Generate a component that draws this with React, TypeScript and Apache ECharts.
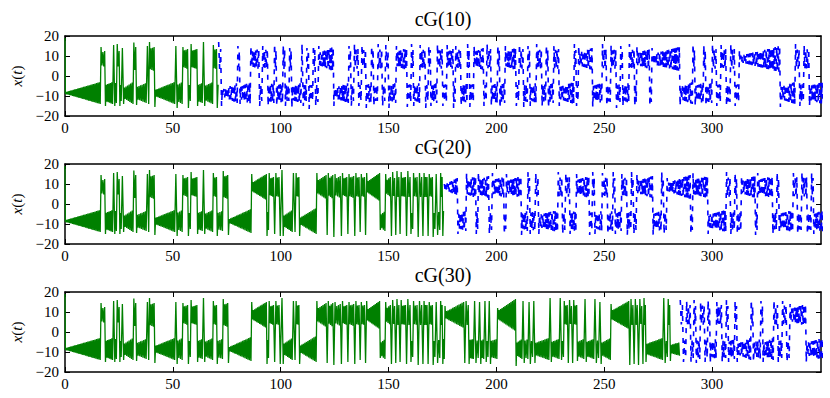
import React, { useEffect, useRef } from "react";
import * as echarts from "echarts";

// Episode: [start time, side (+1 / -1), first excursion |x|, oscillation amplitude at start, amplitude at end]
type Episode = [number, number, number, number, number];

const titles = ["cG(10)", "cG(20)", "cG(30)"];
const xTicks = [0, 50, 100, 150, 200, 250, 300];
const yTicks = [-20, -10, 0, 10, 20];
const cutoffs = [71, 175.7, 285];
const tMax = 350.5;
const wingCentre = 8.5;
const halfPeriod = 0.34;
const greenStart: [number, number] = [0, 19];

const greenEpisodes: Episode[] = [
  [0.0, -1, 9, 0.4, 5.5],
  [16.5, 1, 14.5, 3, 4],
  [18.6, -1, 15, 4, 5.5],
  [22.2, 1, 15.5, 5, 5],
  [22.9, -1, 15, 5, 5],
  [24.0, 1, 16, 3.5, 4],
  [25.3, -1, 15, 4, 4],
  [26.2, 1, 14, 4, 4],
  [27.0, -1, 14, 2.5, 5.5],
  [31.7, 1, 16.8, 5, 6],
  [33.0, -1, 14.5, 3, 5],
  [37.8, 1, 15, 4, 4],
  [38.6, -1, 14, 4, 4],
  [39.0, 1, 17, 5, 6],
  [41.5, -1, 15.5, 1.5, 5.5],
  [51.0, 1, 15, 5, 5],
  [51.8, -1, 16, 4, 5.5],
  [54.5, 1, 14.5, 4, 5],
  [57.0, -1, 16, 4, 4],
  [58.3, 1, 16, 4, 5],
  [61.3, -1, 15, 4, 5],
  [63.8, 1, 17, 5, 5],
  [64.6, -1, 15, 3.5, 5.5],
  [68.6, 1, 15.5, 4.5, 5],
  [70.4, -1, 16, 4, 5],
  [73.2, 1, 16.5, 5, 6],
  [75.6, -1, 15.5, 0.8, 6],
  [86.4, 1, 15, 2, 6.5],
  [93.5, -1, 16, 4.5, 4.5],
  [94.5, 1, 15.5, 4, 5],
  [96.8, -1, 15, 5, 5],
  [97.6, 1, 15.5, 4.5, 5],
  [99.4, -1, 16, 4, 4],
  [100.2, 1, 17, 6, 6],
  [101.0, -1, 16, 2.5, 5.5],
  [105.5, 1, 15.5, 5, 5],
  [106.3, -1, 14, 4.5, 4.5],
  [107.0, 1, 15.5, 4.5, 5],
  [108.6, -1, 16, 1.5, 6.5],
  [116.6, 1, 15.5, 3, 6],
  [121.2, -1, 15.5, 5, 5],
  [121.9, 1, 15.5, 4, 6],
  [124.3, -1, 16.5, 5, 5],
  [125.0, 1, 15, 4, 5.5],
  [127.8, -1, 16, 5, 5],
  [128.5, 1, 15.5, 4, 5],
  [130.8, -1, 15, 5, 5],
  [131.5, 1, 15, 4.5, 5.5],
  [134.0, -1, 16, 5, 5],
  [134.7, 1, 15.5, 4.5, 5],
  [136.5, -1, 14, 5, 5],
  [137.2, 1, 15, 4.5, 5],
  [139.0, -1, 15.5, 5, 5],
  [139.7, 1, 15.5, 2.5, 7],
  [146.0, -1, 13, 3, 5],
  [148.5, 1, 15, 3, 5],
  [151.0, -1, 16, 5, 5],
  [151.7, 1, 16, 4.5, 4.5],
  [153.0, -1, 15.5, 5, 5],
  [153.7, 1, 16.5, 5, 5],
  [155.0, -1, 15, 5, 5],
  [155.7, 1, 16, 4.5, 5],
  [158.0, -1, 16, 5, 5],
  [158.7, 1, 16.5, 5, 5],
  [160.2, -1, 15, 4, 4],
  [161.4, 1, 15.5, 4.5, 5],
  [163.4, -1, 16.5, 5, 5],
  [164.1, 1, 15.5, 5, 5],
  [165.6, -1, 16, 5, 5],
  [166.3, 1, 15.5, 5, 5],
  [168.0, -1, 16, 5, 5],
  [168.7, 1, 15, 4.5, 5],
  [170.5, -1, 16.5, 4, 4],
  [171.7, 1, 15, 5, 5],
  [172.5, -1, 15.5, 4.5, 4.5],
  [174.0, 1, 15.5, 5, 5],
  [175.0, -1, 16, 5, 5],
  [176.0, 1, 13, 1.5, 6.5],
  [185.0, -1, 15.5, 5, 5],
  [185.7, 1, 15.5, 5, 5],
  [187.2, -1, 16, 4.5, 5],
  [189.5, 1, 15.5, 4.5, 4.5],
  [190.3, -1, 15.5, 4, 4.5],
  [191.8, 1, 15, 4.5, 4.5],
  [192.6, -1, 16, 4, 5],
  [194.3, 1, 15.5, 5, 5],
  [195.1, -1, 15, 4, 4],
  [196.3, 1, 15.5, 5, 5],
  [197.1, -1, 16, 4, 5],
  [200.4, 1, 12, 2, 8],
  [209.0, -1, 17, 3, 5],
  [212.0, 1, 15.5, 5, 5],
  [212.7, -1, 15.5, 4, 5],
  [214.8, 1, 15, 5, 5],
  [215.5, -1, 16, 4, 4],
  [217.0, 1, 15.5, 5, 5],
  [217.7, -1, 15.5, 3, 5.5],
  [224.5, 1, 17, 4.5, 4.5],
  [225.3, -1, 15, 3.5, 5],
  [229.2, 1, 17, 5, 5],
  [230.0, -1, 14, 4, 4],
  [231.3, 1, 15.5, 4.5, 5],
  [233.0, -1, 15.5, 5, 5],
  [233.7, 1, 16, 4.5, 4.5],
  [235.0, -1, 15.5, 5, 5],
  [235.7, 1, 16, 4.5, 5],
  [237.4, -1, 14.5, 3.5, 5],
  [240.7, 1, 16.5, 5, 5],
  [241.5, -1, 15, 3.5, 5],
  [245.3, 1, 16.5, 5, 5],
  [246.1, -1, 15.5, 4, 4.5],
  [247.6, 1, 15, 4.5, 4.5],
  [248.4, -1, 16, 3, 5.5],
  [253.0, 1, 14, 2, 7],
  [261.5, -1, 16.5, 5, 5],
  [262.2, 1, 16.5, 5, 5],
  [263.5, -1, 16, 5, 5],
  [264.2, 1, 16.5, 5, 5],
  [265.5, -1, 16.5, 5, 5],
  [266.3, 1, 16.5, 4.5, 4.5],
  [267.6, -1, 16, 5, 5],
  [268.3, 1, 17, 5, 5],
  [269.2, -1, 15, 2.5, 5.5],
  [277.2, 1, 17, 5, 5],
  [278.0, -1, 15.5, 4, 4],
  [279.5, 1, 16.5, 5, 5],
  [280.5, -1, 14.5, 2, 5],
];

const blueEpisodes10: Episode[] = [
  [71.0, 1, 17, 5, 5],
  [72.4, -1, 15, 1.5, 5],
  [80.0, 1, 15, 4, 4],
  [81.0, -1, 14, 3, 5.5],
  [86.0, 1, 15, 3.5, 5],
  [90.0, -1, 15, 4, 4],
  [91.5, 1, 15, 4, 5],
  [94.0, -1, 15, 4, 5],
  [97.0, 1, 16, 4.5, 4.5],
  [98.0, -1, 15, 3.5, 5],
  [101.0, 1, 15.5, 5, 5],
  [102.0, -1, 15, 4, 4],
  [104.0, 1, 14, 4.5, 4.5],
  [105.0, -1, 16, 3.5, 5],
  [109.5, 1, 16, 5, 5],
  [110.3, -1, 15, 4, 4],
  [112.0, 1, 14, 4.5, 4.5],
  [113.0, -1, 16.5, 4, 4],
  [115.0, 1, 15.5, 4.5, 4.5],
  [116.0, -1, 15, 4.5, 4.5],
  [117.5, 1, 15, 3, 6],
  [124.5, -1, 15, 2.5, 5],
  [131.5, 1, 15, 4.5, 4.5],
  [132.5, -1, 15, 4, 4],
  [134.0, 1, 16, 4.5, 5],
  [136.0, -1, 15, 4, 4],
  [137.5, 1, 15.5, 4, 5],
  [139.5, -1, 16, 4, 5],
  [142.0, 1, 15, 5, 5],
  [143.0, -1, 15, 4, 4],
  [145.0, 1, 16, 4.5, 5],
  [147.0, -1, 15, 4, 4],
  [148.5, 1, 15.5, 4, 4],
  [150.0, -1, 16, 3.5, 5],
  [153.5, 1, 15, 3.5, 5.5],
  [158.5, -1, 15.5, 4, 4.5],
  [160.5, 1, 16, 4.5, 4.5],
  [161.5, -1, 15, 3.5, 5],
  [164.5, 1, 15.5, 4, 5],
  [167.0, -1, 16, 4, 4],
  [168.5, 1, 15, 4.5, 4.5],
  [169.5, -1, 15, 3.5, 5],
  [172.5, 1, 16, 4, 5],
  [175.0, -1, 15, 4, 4.5],
  [177.0, 1, 15.5, 3.5, 5],
  [180.0, -1, 16, 4.5, 4.5],
  [181.0, 1, 15, 4, 5],
  [183.5, -1, 15, 3.5, 5],
  [186.5, 1, 16, 4.5, 4.5],
  [187.5, -1, 15.5, 4, 4.5],
  [189.5, 1, 15, 3.5, 5.5],
  [194.0, -1, 15, 4, 4],
  [195.5, 1, 16, 4.5, 5],
  [197.5, -1, 15, 3.5, 5],
  [200.5, 1, 15.5, 4.5, 4.5],
  [201.5, -1, 16, 4, 5],
  [204.0, 1, 15, 3.5, 5.5],
  [209.0, -1, 15, 4, 4],
  [210.5, 1, 16, 4.5, 5],
  [212.5, -1, 15.5, 4, 4.5],
  [214.5, 1, 15, 4.5, 4.5],
  [215.5, -1, 15, 3.5, 5],
  [218.5, 1, 16, 4, 5],
  [221.0, -1, 15, 4, 4.5],
  [223.0, 1, 15.5, 4.5, 4.5],
  [224.0, -1, 16, 4, 5],
  [226.5, 1, 15, 4.5, 5],
  [229.0, -1, 15, 3, 5.5],
  [236.0, 1, 16, 4.5, 4.5],
  [237.0, -1, 15, 4, 4],
  [238.0, 1, 15, 3, 5.5],
  [244.5, -1, 15.5, 3.5, 5],
  [249.0, 1, 16, 4.5, 5],
  [251.0, -1, 15, 4, 4.5],
  [253.0, 1, 15.5, 4, 5],
  [255.5, -1, 16, 4, 4.5],
  [257.5, 1, 15, 4.5, 4.5],
  [258.5, -1, 15, 3.5, 5],
  [261.5, 1, 16, 4, 5],
  [264.0, -1, 15, 4.5, 4.5],
  [265.0, 1, 15, 3, 5],
  [271.0, -1, 15, 4.5, 4.5],
  [272.0, 1, 14, 2.5, 6],
  [285.0, -1, 15, 3, 5.5],
  [291.0, 1, 16, 4.5, 4.5],
  [292.0, -1, 15, 3.5, 5],
  [296.0, 1, 15.5, 4.5, 4.5],
  [297.0, -1, 15, 4, 5],
  [300.0, 1, 16, 4.5, 5],
  [302.0, -1, 15, 4, 4.5],
  [304.0, 1, 15.5, 4, 5],
  [306.5, -1, 15, 4, 4.5],
  [308.5, 1, 16, 4.5, 5],
  [310.5, -1, 15, 4, 4.5],
  [312.5, 1, 13, 1.5, 6.5],
  [331.5, -1, 15.5, 3, 5.5],
  [338.5, 1, 16, 4.5, 5],
  [340.5, -1, 15, 4, 4.5],
  [342.5, 1, 15.5, 4.5, 5],
  [345.0, -1, 15, 3.5, 5.5],
];

const blueEpisodes20: Episode[] = [
  [175.7, 1, 10, 1, 4.5],
  [182.0, -1, 15, 3.5, 5],
  [186.0, 1, 15.5, 3.5, 5.5],
  [190.5, -1, 15, 4, 4],
  [191.5, 1, 16, 3.5, 5.5],
  [196.5, -1, 15, 4, 4.5],
  [198.0, 1, 15.5, 3.5, 5],
  [203.5, -1, 15, 4, 4],
  [204.5, 1, 15, 3, 5.5],
  [211.5, -1, 15.5, 3.5, 5],
  [214.5, 1, 16, 4.5, 4.5],
  [215.5, -1, 15, 4, 5],
  [218.0, 1, 15.5, 4.5, 5],
  [219.5, -1, 15, 3, 5.5],
  [228.5, 1, 16, 4.5, 5],
  [230.5, -1, 15, 4, 4.5],
  [232.0, 1, 15.5, 4.5, 5],
  [234.0, -1, 15, 3.5, 5.5],
  [237.0, 1, 15, 3.5, 5.5],
  [243.0, -1, 15.5, 4, 4.5],
  [244.5, 1, 16, 4.5, 4.5],
  [245.5, -1, 15, 3.5, 5],
  [249.0, 1, 15.5, 4, 5],
  [251.5, -1, 15, 4, 5],
  [254.0, 1, 16, 4.5, 4.5],
  [255.0, -1, 15, 3.5, 5],
  [258.0, 1, 15, 4, 5],
  [260.5, -1, 15.5, 4, 4.5],
  [262.5, 1, 16, 4.5, 4.5],
  [263.5, -1, 15, 4, 4.5],
  [265.0, 1, 15, 3, 5.5],
  [272.5, -1, 15.5, 3.5, 5],
  [276.5, 1, 16, 4.5, 4.5],
  [277.5, -1, 15, 4, 4.5],
  [279.0, 1, 13, 2, 6],
  [290.0, -1, 15, 4.5, 4.5],
  [291.0, 1, 15.5, 3.5, 5.5],
  [298.0, -1, 15, 3, 5.5],
  [306.5, 1, 16, 4.5, 5],
  [308.5, -1, 15, 4, 4.5],
  [310.5, 1, 15.5, 4.5, 4.5],
  [311.5, -1, 15, 4, 5],
  [313.5, 1, 14, 3, 5.5],
  [320.0, -1, 15.5, 4.5, 4.5],
  [321.0, 1, 15.5, 3.5, 5.5],
  [328.0, -1, 15, 4, 4.5],
  [330.0, 1, 16, 4.5, 4.5],
  [331.0, -1, 15, 3.5, 5.5],
  [337.5, 1, 15.5, 4.5, 5],
  [339.5, -1, 15, 4, 4.5],
  [341.5, 1, 16, 4.5, 5],
  [344.0, -1, 15, 4, 4.5],
  [346.0, 1, 15.5, 4.5, 4.5],
  [347.0, -1, 15, 3.5, 5.5],
];

const blueEpisodes30: Episode[] = [
  [285.0, 1, 16, 4.5, 5],
  [286.5, -1, 15, 4, 4.5],
  [288.0, 1, 15.5, 4.5, 5],
  [290.0, -1, 15, 4, 4.5],
  [291.5, 1, 16, 4.5, 4.5],
  [292.5, -1, 15.5, 4, 5],
  [294.5, 1, 15, 4.5, 5],
  [296.5, -1, 15, 4, 4.5],
  [298.0, 1, 16, 4.5, 4.5],
  [299.0, -1, 15.5, 3.5, 5],
  [302.0, 1, 15, 4, 5],
  [304.5, -1, 15, 4, 4.5],
  [306.5, 1, 16, 4.5, 4.5],
  [307.5, -1, 15, 3.5, 5],
  [310.5, 1, 15.5, 4.5, 4.5],
  [311.5, -1, 15, 2.5, 5.5],
  [318.0, 1, 16, 4.5, 4.5],
  [319.0, -1, 15, 3, 5],
  [322.5, 1, 15.5, 4.5, 4.5],
  [323.5, -1, 15, 3, 5.5],
  [328.5, 1, 16, 4.5, 5],
  [330.5, -1, 15, 4, 4.5],
  [332.5, 1, 15.5, 4.5, 5],
  [334.5, -1, 15, 4, 4.5],
  [336.0, 1, 14, 3, 5.5],
  [343.5, -1, 15, 3, 5.5],
];

const blueLists = [blueEpisodes10, blueEpisodes20, blueEpisodes30];

function trace(eps: Episode[], tEnd: number): [number, number][] {
  const pts: [number, number][] = [];
  for (let i = 0; i < eps.length; i++) {
    const [ts, s, peak, a0, a1] = eps[i];
    const te = i + 1 < eps.length ? eps[i + 1][0] : tEnd;
    const d = te - ts;
    let n = Math.max(1, Math.round(d / halfPeriod));
    if (n % 2 === 0) n -= 1;
    for (let j = 0; j < n; j++) {
      const t = ts + ((j + 0.5) * d) / n;
      const f = n > 1 ? j / (n - 1) : 0;
      const a = a0 + (a1 - a0) * f;
      let x: number;
      if (j === 0) x = s * peak;
      else if (j % 2 === 1) x = s * (wingCentre - a);
      else x = s * (wingCentre + a);
      pts.push([t, x]);
    }
  }
  return pts;
}

const FONT = "'Liberation Serif', 'DejaVu Serif', serif";

export default function App() {
  const ref = useRef<HTMLDivElement>(null);
  useEffect(() => {
    if (!ref.current) return;
    const chart = echarts.init(ref.current, undefined, { renderer: "svg" });
    const greenFull = [greenStart, ...trace(greenEpisodes, 290)];
    const tops = [36, 164, 292];
    const H = 80;
    const grids = tops.map((top) => ({ left: 65, top, width: 756, height: H, show: false }));
    const xAxes: any[] = [];
    const yAxes: any[] = [];
    const series: any[] = [];
    const graphics: any[] = [];
    const fmtY = (v: number) => (v < 0 ? "\u2212" + Math.abs(v) : String(v));
    tops.forEach((top, i) => {
      const lineStyle = { color: "#000", width: 1.5 };
      const tick = { show: true, inside: true, length: 5, lineStyle: { color: "#000", width: 1 } };
      xAxes.push({
        type: "value", gridIndex: i, min: 0, max: tMax, position: "bottom",
        axisLine: { show: true, onZero: false, lineStyle },
        axisTick: { ...tick, customValues: xTicks },
        axisLabel: {
          customValues: xTicks, color: "#000", fontFamily: FONT, fontSize: 15, margin: 4,
          formatter: (v: number) => (v > 300 ? "" : String(v)),
        },
        splitLine: { show: false },
      });
      xAxes.push({
        type: "value", gridIndex: i, min: 0, max: tMax, position: "top",
        axisLine: { show: true, onZero: false, lineStyle },
        axisTick: { ...tick, customValues: xTicks },
        axisLabel: { show: false },
        splitLine: { show: false },
      });
      yAxes.push({
        type: "value", gridIndex: i, min: yTicks[0], max: yTicks[yTicks.length - 1], interval: 10, position: "left",
        axisLine: { show: true, onZero: false, lineStyle },
        axisTick: tick,
        axisLabel: { color: "#000", fontFamily: FONT, fontSize: 15, margin: 6, formatter: fmtY },
        splitLine: { show: false },
      });
      yAxes.push({
        type: "value", gridIndex: i, min: yTicks[0], max: yTicks[yTicks.length - 1], interval: 10, position: "right",
        axisLine: { show: true, onZero: false, lineStyle },
        axisTick: tick,
        axisLabel: { show: false },
        splitLine: { show: false },
      });
      const green = greenFull.filter((p) => p[0] <= cutoffs[i]);
      const blue = trace(blueLists[i], tMax + 1);
      series.push({
        type: "line", xAxisIndex: 2 * i, yAxisIndex: 2 * i, data: blue, showSymbol: false,
        symbol: "none", silent: true, clip: true,
        lineStyle: { color: "#0000ff", width: 1.6, type: [5, 6] },
      });
      series.push({
        type: "line", xAxisIndex: 2 * i, yAxisIndex: 2 * i, data: green, showSymbol: false,
        symbol: "none", silent: true, clip: true,
        lineStyle: { color: "#008000", width: 1.3 },
      });
      graphics.push({
        type: "text", x: 443, y: top - 17,
        style: { text: titles[i], fill: "#000", font: `20px ${FONT}`, textAlign: "center", textVerticalAlign: "middle" },
      });
      graphics.push({
        type: "text", x: 17, y: top + H / 2, rotation: Math.PI / 2,
        style: {
          text: "{i|x}{n|(}{i|t}{n|)}", textAlign: "center", textVerticalAlign: "middle",
          rich: {
            i: { fontFamily: FONT, fontSize: 15, fontStyle: "italic", fill: "#000" },
            n: { fontFamily: FONT, fontSize: 15, fill: "#000" },
          },
        },
      });
    });
    chart.setOption({
      animation: false,
      backgroundColor: "#fff",
      grid: grids,
      xAxis: xAxes,
      yAxis: yAxes,
      series,
      graphic: graphics,
    });
    return () => chart.dispose();
  }, []);
  return (
    <div
      ref={ref}
      style={{ position: "fixed", left: 0, top: 0, width: 830, height: 398 }}
    />
  );
}
